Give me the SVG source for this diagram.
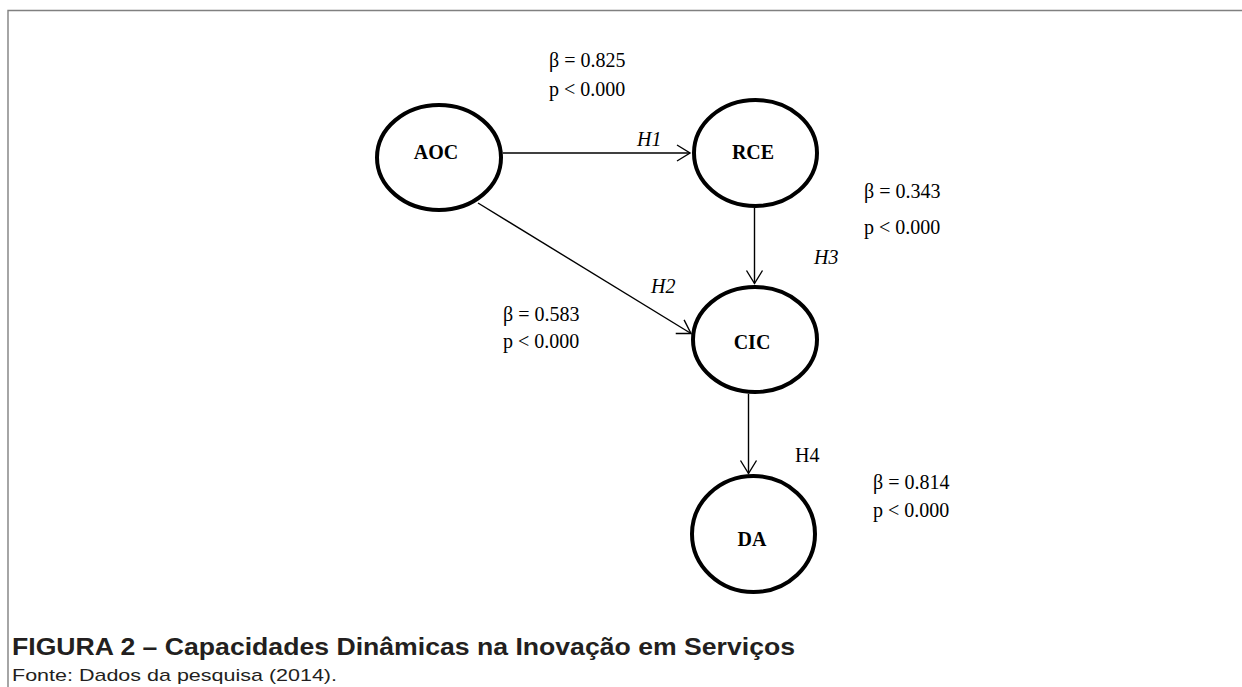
<svg xmlns="http://www.w3.org/2000/svg" width="1242" height="687" viewBox="0 0 1242 687">
  <style>
    .node { fill: #ffffff; stroke: #000000; stroke-width: 4; }
    .nlabel { font-family: "Liberation Serif", "Times New Roman", serif; font-size: 20px; font-weight: bold; fill: #000; text-anchor: middle; }
    .stat { font-family: "Liberation Serif", "Times New Roman", serif; font-size: 20px; fill: #000; }
    .hyp { font-family: "Liberation Serif", "Times New Roman", serif; font-size: 20px; font-style: italic; fill: #000; }
    .hypr { font-family: "Liberation Serif", "Times New Roman", serif; font-size: 20px; fill: #000; }
    .edge { fill: none; stroke: #000000; stroke-width: 1.4; }
    .caption { font-family: "Liberation Sans", Arial, sans-serif; font-size: 23px; font-weight: bold; fill: #231f20; }
    .source { font-family: "Liberation Sans", Arial, sans-serif; font-size: 17px; fill: #231f20; }
    .frame { fill: none; stroke: #808080; stroke-width: 1.4; }
  </style>
  <defs>
    <marker id="arrow" markerUnits="userSpaceOnUse" viewBox="-15 -10 17 20" refX="0" refY="0" markerWidth="17" markerHeight="20" orient="auto">
      <path d="M-13,-8 L0,0 L-13,8" fill="none" stroke="#000" stroke-width="1.4"/>
    </marker>
  </defs>

  <path class="frame" d="M8,687 L8,10.5 L1242,10.5"/>

  <g id="connectors">
    <path id="e-h1" class="edge" d="M503,153 L690,153" marker-end="url(#arrow)"/>
    <path id="e-h2" class="edge" d="M478,203 L691,333.5" marker-end="url(#arrow)"/>
    <path id="e-h3" class="edge" d="M754.5,208 L754.5,283.5" marker-end="url(#arrow)"/>
    <path id="e-h4" class="edge" d="M748.5,394 L748.5,473.5" marker-end="url(#arrow)"/>
  </g>

  <g id="node-aoc">
    <ellipse class="node" cx="439" cy="157.5" rx="62" ry="52.5"/>
    <text class="nlabel" x="436" y="159">AOC</text>
  </g>
  <g id="node-rce">
    <ellipse class="node" cx="755.5" cy="153" rx="61.5" ry="53"/>
    <text class="nlabel" x="753" y="159">RCE</text>
  </g>
  <g id="node-cic">
    <ellipse class="node" cx="755" cy="339.5" rx="62" ry="52.5"/>
    <text class="nlabel" x="752" y="349">CIC</text>
  </g>
  <g id="node-da">
    <ellipse class="node" cx="753.5" cy="534" rx="61.5" ry="58"/>
    <text class="nlabel" x="752" y="546">DA</text>
  </g>

  <g id="labels">
    <text class="stat" x="549" y="67">β = 0.825</text>
    <text class="stat" x="549" y="96">p &lt; 0.000</text>
    <text class="hyp" x="637" y="146">H1</text>

    <text class="stat" x="864" y="198">β = 0.343</text>
    <text class="stat" x="864" y="234">p &lt; 0.000</text>
    <text class="hyp" x="814" y="264">H3</text>

    <text class="hyp" x="651" y="293">H2</text>
    <text class="stat" x="503" y="321">β = 0.583</text>
    <text class="stat" x="503" y="348">p &lt; 0.000</text>

    <text class="hypr" x="795" y="462">H4</text>
    <text class="stat" x="873" y="489">β = 0.814</text>
    <text class="stat" x="873" y="517">p &lt; 0.000</text>
  </g>

  <text class="caption" x="12" y="655" textLength="783" lengthAdjust="spacingAndGlyphs">FIGURA 2 – Capacidades Dinâmicas na Inovação em Serviços</text>
  <text class="source" x="12" y="681" textLength="325" lengthAdjust="spacingAndGlyphs">Fonte: Dados da pesquisa (2014).</text>
</svg>
